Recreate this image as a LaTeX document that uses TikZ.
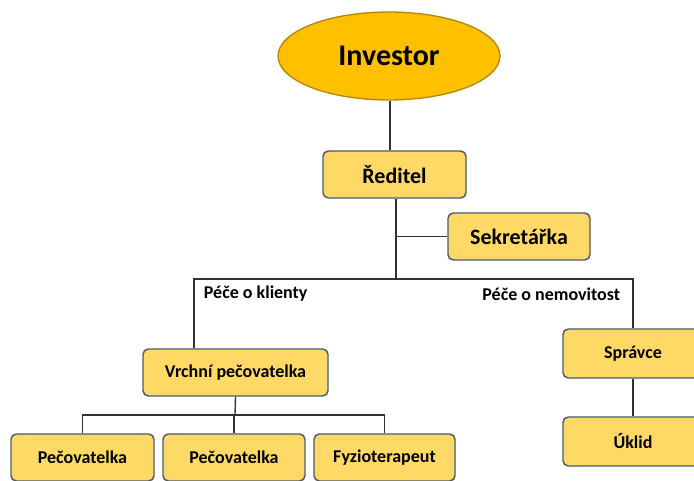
\documentclass[tikz,border=0pt]{standalone}
\usepackage{fontspec}
\setmainfont{Carlito}
\usepackage{tikz}
\usetikzlibrary{shapes.geometric}
\tikzset{every picture/.style={line width=0.75pt}}
\definecolor{invgold}{RGB}{255,192,0}
\definecolor{invedge}{RGB}{180,135,10}
\definecolor{boxfill}{RGB}{255,217,102}
\definecolor{boxedge}{RGB}{75,90,110}
\definecolor{linegray}{RGB}{50,50,50}
\tikzset{
	orgbox/.style={draw=boxedge, fill=boxfill, rounded corners=4pt, line width=1.1pt, inner sep=0pt, minimum height=35.25pt},
	bigtext/.style={font=\bfseries\fontsize{16.5}{19}\selectfont},
	smalltext/.style={font=\bfseries\fontsize{13.5}{16}\selectfont},
	orgline/.style={draw=linegray, line width=1pt}
}

\begin{document}
\begin{tikzpicture}[x=0.75pt,y=0.75pt,yscale=-1,xscale=1]
	\useasboundingbox (0,0) rectangle (694,481);
	
	%Ellipse
	\node [ellipse, draw=invedge, fill=invgold, line width=1pt, minimum width=166.5pt, minimum height=66pt, font=\bfseries\fontsize{22.5}{26}\selectfont] (inv) at (389,56) {Investor};
	
	%Rounded Rect
	\node [orgbox, bigtext, minimum width=107.25pt] (red) at (394.5,174.5) {Ředitel};
	%Rounded Rect
	\node [orgbox, bigtext, minimum width=106.5pt] (sek) at (519,236.5) {Sekretářka};
	%Rounded Rect
	\node [orgbox, smalltext, minimum width=138.75pt] (vrch) at (235.5,372.5) {Vrchní pečovatelka};
	%Rounded Rect
	\node [orgbox, smalltext, minimum width=105pt, minimum height=36.75pt] (spr) at (633,353.5) {Správce};
	%Rounded Rect
	\node [orgbox, smalltext, minimum width=105pt, minimum height=36.75pt] (ukl) at (633,441.5) {Úklid};
	%Rounded Rect
	\node [orgbox, smalltext, minimum width=107.25pt] (pec1) at (82.5,457.5) {Pečovatelka};
	%Rounded Rect
	\node [orgbox, smalltext, minimum width=106.5pt] (pec2) at (234,457.5) {Pečovatelka};
	%Rounded Rect
	\node [orgbox, smalltext, minimum width=105.75pt] (fyz) at (384.5,457.5) {Fyzioterapeut};
	
	% Text Node
	\node [smalltext, anchor=west] (klient) at (199,294) {Péče o klienty};
	% Text Node
	\node [smalltext, anchor=east] (nemov) at (625,294) {Péče o nemovitost};
	
	\coordinate (trunk) at (396,279);
	\coordinate (lft) at (194,279);
	\coordinate (rgt) at (633,279);
	\coordinate (bus) at (235,415);
	
	%Straight Lines
	\draw [orgline] (inv.south -| 390,0) -- (red.north -| 390,0) ;
	%Straight Lines
	\draw [orgline] (red.south -| trunk) -- (trunk) ;
	%Straight Lines
	\draw [orgline] (trunk |- sek.west) -- (sek.west) ;
	%Straight Lines
	\draw [orgline] (lft |- vrch.north) -- (lft) -- (rgt) -- (rgt |- spr.north) ;
	%Straight Lines
	\draw [orgline] (spr.south) -- (ukl.north) ;
	%Straight Lines
	\draw [orgline] (vrch.south) -- (bus) ;
	%Straight Lines
	\draw [orgline] (pec1.north) -- (pec1.north |- bus) -- (fyz.north |- bus) -- (fyz.north) ;
	%Straight Lines
	\draw [orgline] (pec2.north |- bus) -- (pec2.north) ;
	
\end{tikzpicture}
\end{document}
